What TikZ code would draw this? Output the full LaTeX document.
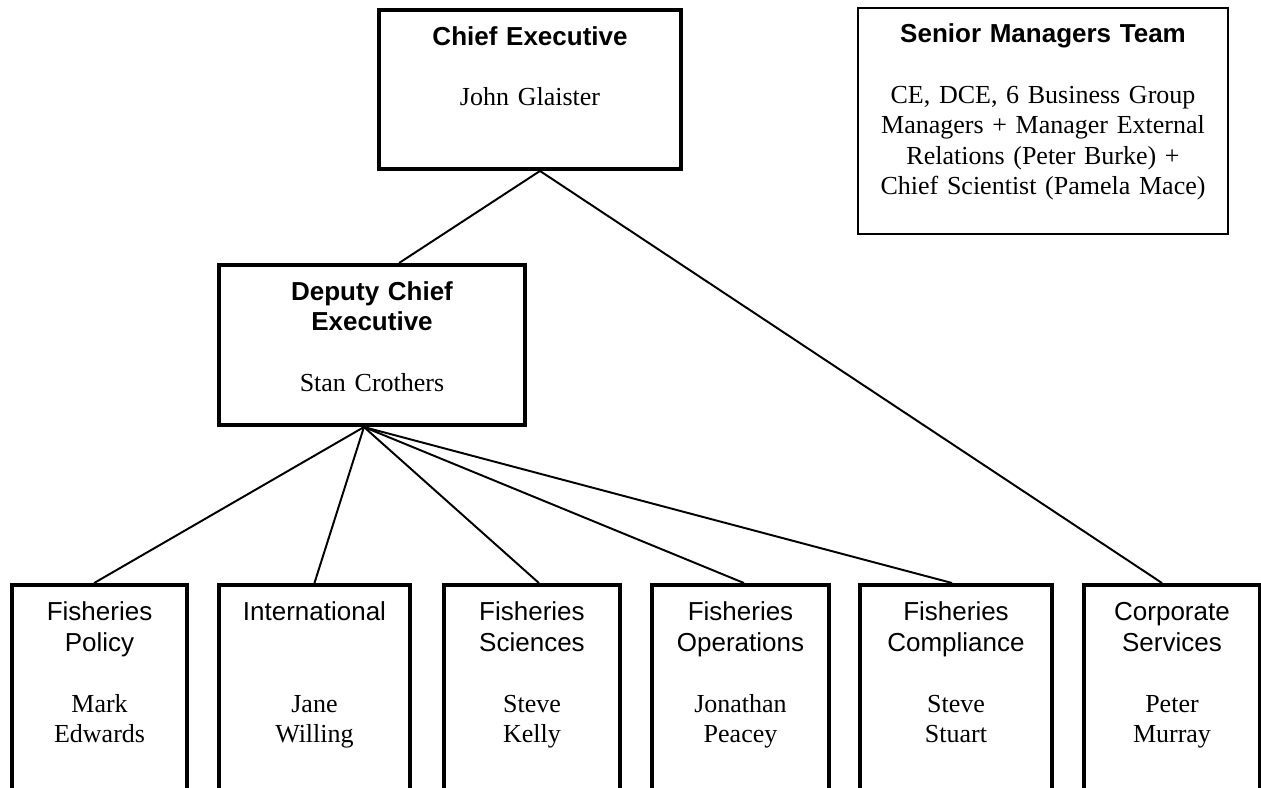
\documentclass[tikz,border=0pt]{standalone}
\usepackage{fontspec}
\setmainfont{Liberation Serif}
\setsansfont{Liberation Sans}

\begin{document}
\begin{tikzpicture}[x=0.4615pt, y=-0.4615pt]
        \tikzstyle{headbox} = [draw=black, line width=1.85pt, inner sep=0pt, align=center, anchor=north west, font=\fontsize{12pt}{14pt}\selectfont, text height=16.15pt]
        \tikzstyle{teambox} = [headbox, line width=0.9pt]
        \tikzstyle{groupbox} = [headbox, text height=16.6pt, text depth=138pt]
        \tikzstyle{orgline} = [line width=0.9pt]

        \useasboundingbox (0,0) rectangle (1261,787);
        \clip (0,0) rectangle (1261,787);

        \node (ce) [headbox, text width=139.4pt, text depth=57.2pt] at (377,8) {\textsf{\textbf{Chief Executive}}\\[14pt] John Glaister};
        \node (smt) [teambox, text width=170.8pt, text depth=88.1pt] at (857,7) {\textsf{\textbf{Senior Managers Team}}\\[14pt] CE, DCE, 6 Business Group\\ Managers + Manager External\\ Relations (Peter Burke) +\\ Chief Scientist (Pamela Mace)};
        \node (dce) [headbox, text width=141.2pt, text depth=57.7pt] at (217,263) {\textsf{\textbf{Deputy Chief\\ Executive}}\\[14pt] Stan Crothers};

        \node (fpol) [groupbox, text width=80.8pt] at (10,583) {\textsf{Fisheries\\ Policy}\\[14pt] Mark\\ Edwards};
        \node (intl) [groupbox, text width=88.1pt] at (217,583) {\textsf{International}\\[28pt] Jane\\ Willing};
        \node (fsci) [groupbox, text width=81.2pt] at (442,583) {\textsf{Fisheries\\ Sciences}\\[14pt] Steve\\ Kelly};
        \node (fops) [groupbox, text width=81.7pt] at (650,583) {\textsf{Fisheries\\ Operations}\\[14pt] Jonathan\\ Peacey};
        \node (fcom) [groupbox, text width=88.6pt] at (858,583) {\textsf{Fisheries\\ Compliance}\\[14pt] Steve\\ Stuart};
        \node (corp) [groupbox, text width=81.2pt] at (1082,583) {\textsf{Corporate\\ Services}\\[14pt] Peter\\ Murray};

        \draw[orgline] ([xshift=4.6pt]ce.south) -- ([xshift=12.5pt]dce.north);
        \draw[orgline] ([xshift=4.6pt]ce.south) -- ([xshift=-4.6pt]corp.north);

        \draw[orgline] ([xshift=-3.7pt]dce.south) -- ([xshift=-2.5pt]fpol.north);
        \draw[orgline] ([xshift=-3.7pt]dce.south) -- (intl.north);
        \draw[orgline] ([xshift=-3.7pt]dce.south) -- ([xshift=3.2pt]fsci.north);
        \draw[orgline] ([xshift=-3.7pt]dce.south) -- ([xshift=1.6pt]fops.north);
        \draw[orgline] ([xshift=-3.7pt]dce.south) -- ([xshift=-1.8pt]fcom.north);
\end{tikzpicture}
\end{document}
